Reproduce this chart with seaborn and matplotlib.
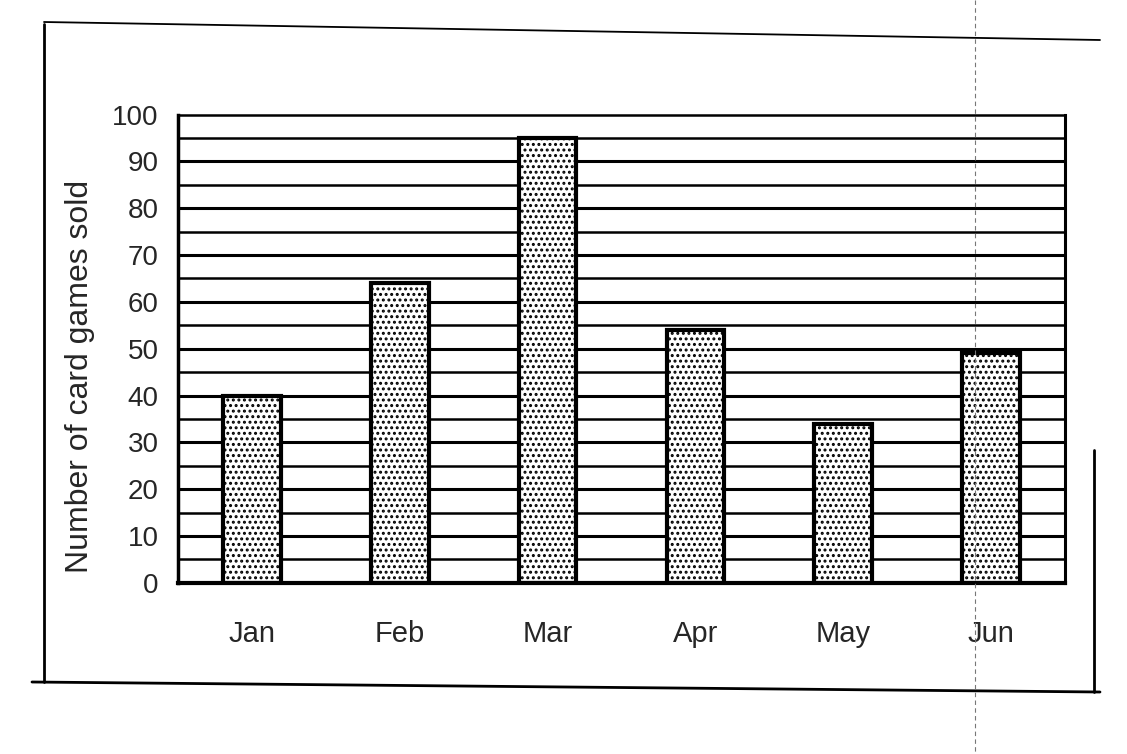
import numpy as np
import pandas as pd
import matplotlib
import matplotlib.pyplot as plt
import seaborn as sns
from matplotlib.lines import Line2D
from matplotlib.ticker import MultipleLocator, FixedLocator

matplotlib.use('Agg')

# Data
months = ['Jan', 'Feb', 'Mar', 'Apr', 'May', 'Jun']
games_sold = [40, 64, 95, 54, 34, 49]

df = pd.DataFrame({'month': months, 'sold': games_sold})

sns.set_style('white')
plt.rcParams['font.family'] = ['Liberation Sans', 'DejaVu Sans']
plt.rcParams['hatch.linewidth'] = 1.4

fig = plt.figure(figsize=(11.27, 7.54), dpi=100)
ax = fig.add_axes([0.158, 0.227, 0.787, 0.621])

# horizontal grid every 5 units, drawn under the bars
for v in range(5, 100, 5):
    lw = 2.2 if v % 10 == 0 else 1.8
    ax.axhline(v, color='black', lw=lw, zorder=0)

sns.barplot(data=df, x='month', y='sold', color='white', width=0.39,
            edgecolor='black', linewidth=3, ax=ax, zorder=2)
for bar in ax.patches:
    bar.set_hatch('...')
    bar.set_facecolor('white')

ax.set_ylim(0, 100)
ax.set_xlim(-0.5, len(months) - 0.5)
ax.yaxis.set_major_locator(MultipleLocator(10))
ax.xaxis.set_minor_locator(FixedLocator(np.arange(-0.5, len(months), 1.0)))

for side in ['top', 'right', 'left', 'bottom']:
    ax.spines[side].set_visible(True)
    ax.spines[side].set_color('black')
ax.spines['left'].set_linewidth(2.5)
ax.spines['bottom'].set_linewidth(3)
ax.spines['top'].set_linewidth(1.8)
ax.spines['right'].set_linewidth(2.2)

ax.tick_params(axis='y', length=0, pad=14, labelsize=20)
ax.tick_params(axis='x', which='major', length=0, pad=27, labelsize=21)
ax.tick_params(axis='x', which='minor', length=8, width=2, direction='out', color='black')

ax.set_xlabel('')
ax.set_ylabel('Number of card games sold', fontsize=23, labelpad=12, y=0.44)

# scanned page frame
frame = dict(color='black', lw=2, transform=fig.transFigure)
fig.add_artist(Line2D([44/1127, 44/1127], [1 - 24/754, 1 - 682/754], **frame))
fig.add_artist(Line2D([32/1127, 1100/1127], [1 - 682/754, 1 - 692/754], **frame))
fig.add_artist(Line2D([44/1127, 1100/1127], [1 - 22/754, 1 - 40/754], color='black', lw=1.3,
                      transform=fig.transFigure))
fig.add_artist(Line2D([1094/1127, 1094/1127], [1 - 450/754, 1 - 692/754], **frame))
fig.add_artist(Line2D([975/1127, 975/1127], [1.0, 0.0], color='#777777', lw=0.8,
                      ls=(0, (4, 3)), transform=fig.transFigure))

fig.savefig('out.png', dpi=100)
